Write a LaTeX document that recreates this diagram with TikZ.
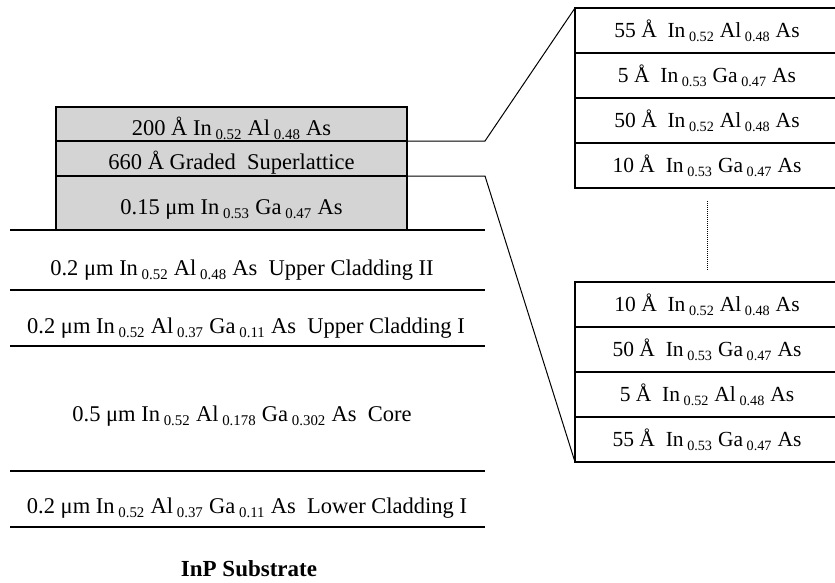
\documentclass[tikz,border=0pt]{standalone}
\usepackage{fontspec}
\setmainfont{Liberation Serif}
\usetikzlibrary{positioning}
\definecolor{layergray}{RGB}{212,212,212}
% subscript with a small gap before and after, as in the wafer table
\newcommand{\sbs}[1]{\,\raisebox{-0.45ex}{\fontsize{0.66em}{1em}\selectfont #1}\;}

\begin{document}
\begin{tikzpicture}[x=1pt, y=-1pt, font=\fontsize{22.5}{26}\selectfont,
    graylayer/.style={draw, fill=layergray, line width=1.2pt, minimum width=351pt, inner sep=0pt, outer sep=0pt,
                      text height=22pt, text depth=0pt},
    slrow/.style={draw, line width=1.2pt, minimum width=264pt, minimum height=45pt, inner sep=0pt, outer sep=0pt,
                  text height=13pt, text depth=0pt, font=\fontsize{21.5}{24}\selectfont},
    layerline/.style={line width=1.8pt},
    zoomline/.style={line width=1pt},
    layertext/.style={inner sep=0pt, anchor=base}]
  \useasboundingbox (0,0) rectangle (835,582);
  % ---------------- top of the wafer (shaded) ----------------
  \node[graylayer, minimum height=34pt, anchor=north west] (g1) at (56,107) {200 Å In\sbs{0.52}Al\sbs{0.48}As};
  \node[graylayer, minimum height=35pt, below=0pt of g1] (g2) {660 Å Graded\ \ Superlattice};
  \node[graylayer, minimum height=54pt, below=0pt of g2] (g3) {0.15 μm In\sbs{0.53}Ga\sbs{0.47}As};
  % ---------------- layer boundaries and layers ----------------
  \foreach \y in {230,290,346,471,527} \draw[layerline] (10,\y) -- (485,\y);
  \node[layertext] (uc2) at (242,275) {0.2 μm In\sbs{0.52}Al\sbs{0.48}As\ \ Upper Cladding II};
  \node[layertext] (uc1) at (246,333) {0.2 μm In\sbs{0.52}Al\sbs{0.37}Ga\sbs{0.11}As\ \ Upper Cladding I};
  \node[layertext] (core) at (242,421) {0.5 μm In\sbs{0.52}Al\sbs{0.178}Ga\sbs{0.302}As\ \ Core};
  \node[layertext] (lc1) at (247,513) {0.2 μm In\sbs{0.52}Al\sbs{0.37}Ga\sbs{0.11}As\ \ Lower Cladding I};
  \node[layertext, font=\fontsize{23}{26}\selectfont\bfseries] (sub) at (249,576) {InP Substrate};
  % ---------------- superlattice, first period ----------------
  \node[slrow, anchor=north west] (t1) at (575,8) {55 Å\ \ In\sbs{0.52}Al\sbs{0.48}As};
  \node[slrow, below=0pt of t1] (t2) {5 Å\ \ In\sbs{0.53}Ga\sbs{0.47}As};
  \node[slrow, below=0pt of t2] (t3) {50 Å\ \ In\sbs{0.52}Al\sbs{0.48}As};
  \node[slrow, below=0pt of t3] (t4) {10 Å\ \ In\sbs{0.53}Ga\sbs{0.47}As};
  % ---------------- superlattice, last period ----------------
  \node[slrow, anchor=north west] (b1) at (575,282) {10 Å\ \ In\sbs{0.52}Al\sbs{0.48}As};
  \node[slrow, below=0pt of b1] (b2) {50 Å\ \ In\sbs{0.53}Ga\sbs{0.47}As};
  \node[slrow, below=0pt of b2] (b3) {5 Å\ \ In\sbs{0.52}Al\sbs{0.48}As};
  \node[slrow, below=0pt of b3] (b4) {55 Å\ \ In\sbs{0.53}Ga\sbs{0.47}As};
  \draw[line width=0.8pt, dash pattern=on 1pt off 1pt] ([yshift=-13pt]t4.south) -- ([yshift=12pt]b1.north);
  % zoom lines from the graded superlattice
  \draw[zoomline] (g1.south east) -- ++(78,0) -- (t1.north west);
  \draw[zoomline] (g2.south east) -- ++(78,0) -- (b4.south west);
\end{tikzpicture}
\end{document}
